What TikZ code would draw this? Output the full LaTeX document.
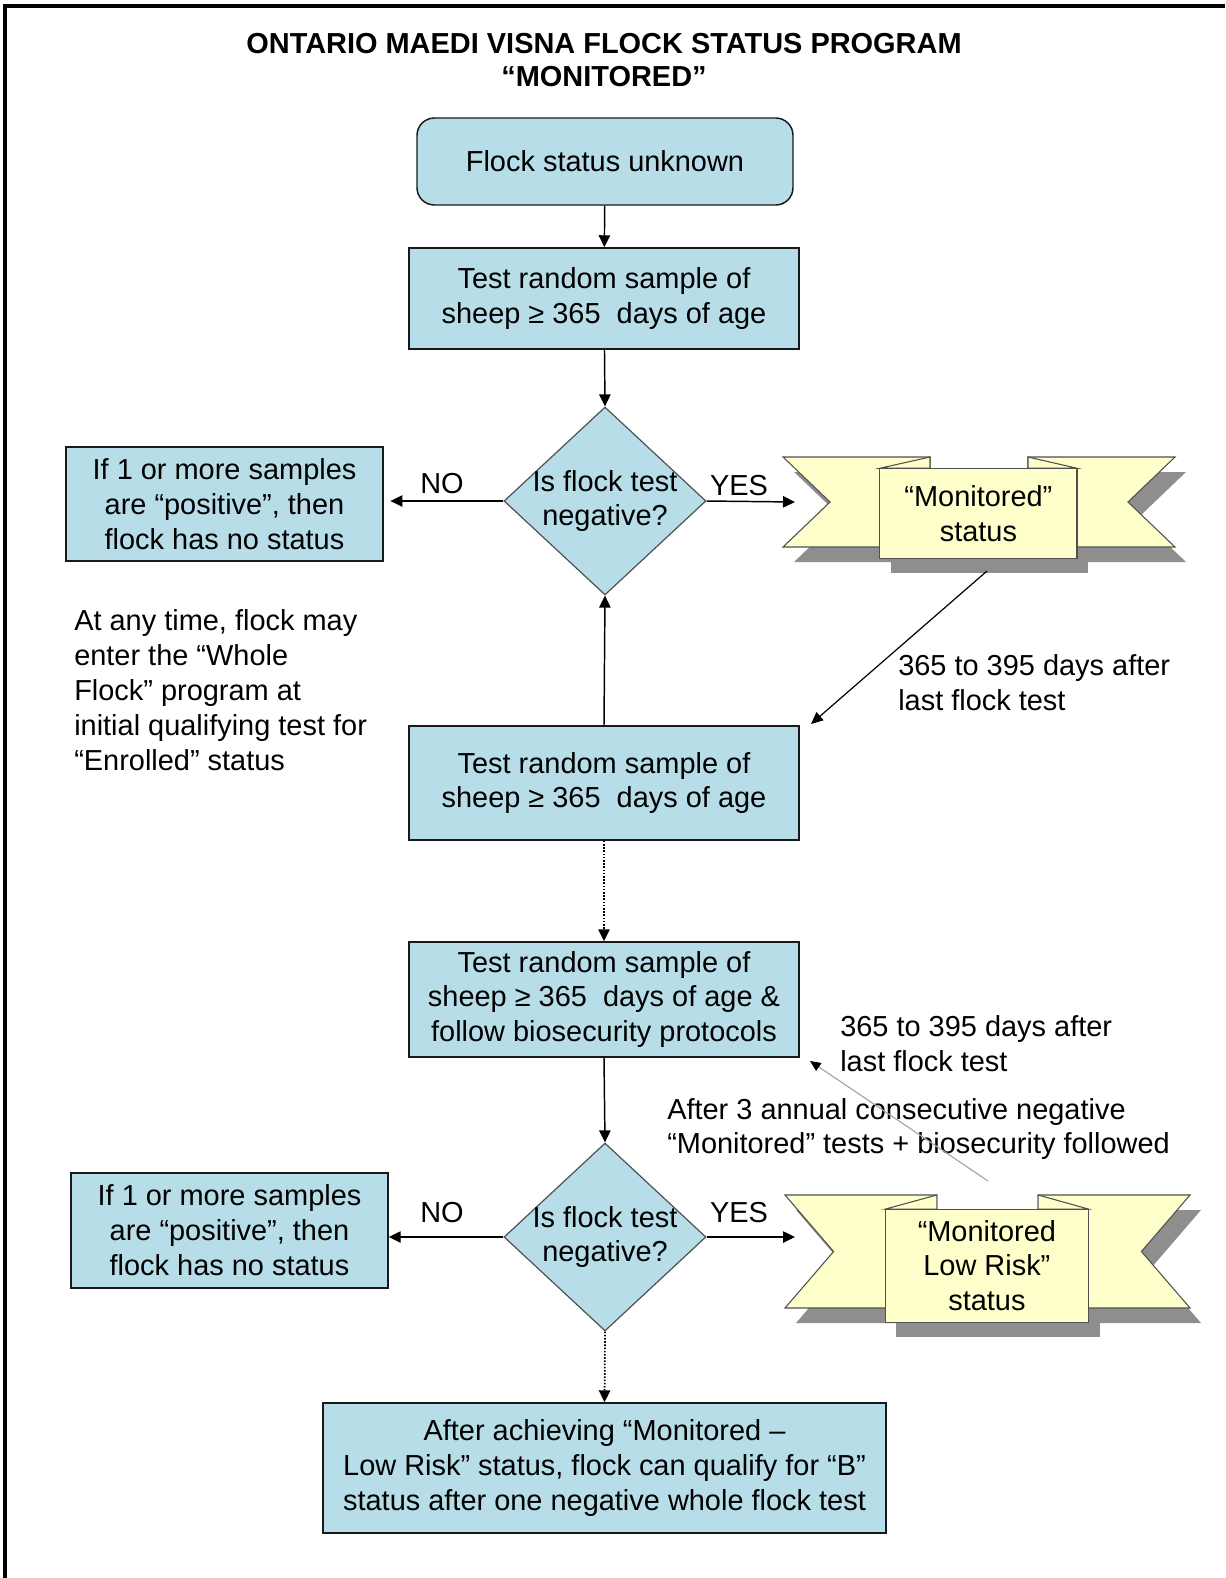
\documentclass[tikz,border=0pt]{standalone}
\usepackage{fontspec}
\setmainfont{Liberation Sans}
\usetikzlibrary{shapes.geometric,arrows.meta}

\definecolor{boxblue}{HTML}{B7DDE8}
\definecolor{ribbonyellow}{HTML}{FFFFCC}
\definecolor{shadegray}{HTML}{8E8E8E}
\definecolor{edgegray}{HTML}{505050}
\definecolor{lightline}{HTML}{A8A8A8}

% Ribbon banner: #1 name, #2/#3 top-left of wings, #4 overall width, #5 wing height, #6 text
\newcommand\flockribbon[6]{%
  \pgfmathsetmacro\rnL{#2+0.12*#4}%
  \pgfmathsetmacro\riL{#2+0.375*#4}%
  \pgfmathsetmacro\rpL{#2+0.247*#4}%
  \pgfmathsetmacro\rpR{#2+0.75*#4}%
  \pgfmathsetmacro\riR{#2+0.625*#4}%
  \pgfmathsetmacro\rnR{#2+0.88*#4}%
  \pgfmathsetmacro\rR{#2+#4}%
  \pgfmathsetmacro\rB{#3+#5}%
  \pgfmathsetmacro\rM{#3+0.5*#5}%
  \pgfmathsetmacro\rD{#3+0.125*#5}%
  \pgfmathsetmacro\rPB{#3+1.125*#5}%
  \pgfmathsetmacro\rpW{(\rpR-\rpL)*0.75}%
  \pgfmathsetmacro\rpH{(\rPB-\rD)*0.75}%
  \begin{scope}[shift={(11,15)}]
    \fill[shadegray] (#2,#3) -- (\riL,#3) -- (\riL,\rB) -- (#2,\rB) -- (\rnL,\rM) -- cycle;
    \fill[shadegray] (\rR,#3) -- (\riR,#3) -- (\riR,\rB) -- (\rR,\rB) -- (\rnR,\rM) -- cycle;
    \fill[shadegray] (\rpL,\rD) rectangle (\rpR,\rPB);
  \end{scope}
  \draw[ribbonline] (#2,#3) -- (\riL,#3) -- (\riL,\rB) -- (#2,\rB) -- (\rnL,\rM) -- cycle;
  \draw[ribbonline] (\rR,#3) -- (\riR,#3) -- (\riR,\rB) -- (\rR,\rB) -- (\rnR,\rM) -- cycle;
  \draw[ribbonline] (\rpL,\rD) -- (\riL,#3) -- (\riL,\rD) -- cycle;
  \draw[ribbonline] (\rpR,\rD) -- (\riR,#3) -- (\riR,\rD) -- cycle;
  \node[ribbonline, minimum width=\rpW pt, minimum height=\rpH pt, align=center, inner sep=0pt]
    (#1) at ({(\rpL+\rpR)/2},{(\rD+\rPB)/2}) {#6};%
}

\begin{document}
\begin{tikzpicture}[x=0.75pt,y=-0.75pt,
  every node/.style={font=\fontsize{21.7}{26.2}\selectfont},
  box/.style={draw=black!90, line width=1.1pt, fill=boxblue, align=center, inner sep=0pt},
  decision/.style={diamond, draw=edgegray, line width=0.9pt, fill=boxblue, inner sep=0pt,
    minimum width=151.5pt, minimum height=141pt},
  ribbonline/.style={draw=edgegray, line width=0.8pt, fill=ribbonyellow},
  arr/.style={line width=1.1pt, -{Triangle[length=9pt,width=8.5pt]}},
  dotarr/.style={line width=1.3pt, dash pattern=on 1.2pt off 1.2pt, -{Triangle[length=9pt,width=8.5pt]}},
  note/.style={align=left, inner sep=0pt}]

\useasboundingbox (0,0) rectangle (1225,1578);

% page frame (top and left edges)
\draw[line width=2.3pt] (5,1578) -- (5,6) -- (1225,6);

% title
\node[font=\fontsize{21.7}{24.75}\selectfont\bfseries, align=center] (title) at (604,60.5)
  {ONTARIO MAEDI VISNA FLOCK STATUS PROGRAM\\“MONITORED”};

% main column
\node[box, rounded corners=13pt, minimum width=282pt, minimum height=65.25pt] (start) at (605,161.5)
  {Flock status unknown};
\node[box, minimum width=292.5pt, minimum height=75.75pt] (t1) at (604,298.5)
  {Test random sample of\\sheep ≥ 365~~days of age};
\node[decision] (d1) at (605,501) {};
\node[align=center] (q1) at (d1.center) {Is flock test\\negative?};
\node[box, minimum width=237.75pt, minimum height=85.5pt] (n1) at (224.5,504)
  {If 1 or more samples\\are “positive”, then\\flock has no status};

\flockribbon{r1}{783}{457}{392}{90}{“Monitored”\\status}

\node[box, minimum width=292.5pt, minimum height=85.5pt] (t2) at (604,783)
  {Test random sample of\\sheep ≥ 365~~days of age};

\node[note, anchor=west] (any) at (74,690.5)
  {At any time, flock may\\enter the “Whole\\Flock” program at\\initial qualifying test for\\“Enrolled” status};

\node[box, minimum width=292.5pt, minimum height=86.25pt] (t3) at (604,999.5)
  {Test random sample of\\sheep ≥ 365~~days of age \&\\follow biosecurity protocols};

\node[decision] (d2) at (605,1237) {};
\node[align=center] (q2) at (d2.center) {Is flock test\\negative?};
\node[box, minimum width=237.75pt, minimum height=86.25pt] (n2) at (229.5,1230.5)
  {If 1 or more samples\\are “positive”, then\\flock has no status};

\flockribbon{r2}{785}{1195}{405}{113}{“Monitored\\Low Risk”\\status}

\node[box, minimum width=422.25pt, minimum height=97.5pt] (fin) at (604.5,1468)
  {After achieving “Monitored –\\Low Risk” status, flock can qualify for “B”\\status after one negative whole flock test};

% side labels
\node[note, anchor=west] (lag1) at (898,682.5) {365 to 395 days after\\last flock test};
\node[note, anchor=west] (lag2) at (840,1043.5) {365 to 395 days after\\last flock test};
\node[note, anchor=west] (three) at (667,1129) {After 3 annual consecutive negative\\“Monitored” tests + biosecurity followed};
\node (no1) at (442,484) {NO};
\node (yes1) at (739,486) {YES};
\node (no2) at (442,1213) {NO};
\node (yes2) at (739,1213) {YES};

% free ends of connectors
\coordinate (y1end) at (795,502);
\coordinate (y2end) at (795,1237);
\coordinate (r1out) at (987,571);
\coordinate (t2in) at (811,724);
\coordinate (r2out) at (988,1181);
\coordinate (t3in) at (810,1061);

% connectors
\draw[arr] (start) -- (t1);
\draw[arr] (t1) -- (d1.north);
\draw[arr] (d1.west) -- ([xshift=5pt]d1.west -| n1.east);
\draw[arr] (d1.east) -- (y1end);
\draw[line width=0.9pt, -{Triangle[length=9pt,width=8pt]}] (r1out) -- (t2in);
\draw[arr] (t2.north) -- (d1.south);
\draw[dotarr] (t2.south) -- (t3.north);
\draw[arr] (t3.south) -- (d2.north);
\draw[arr] (d2.west) -- (d2.west -| n2.east);
\draw[arr] (d2.east) -- (y2end);
\draw[lightline, line width=0.9pt, -{Triangle[length=8pt,width=7pt,color=black]}] (r2out) -- (t3in);
\draw[dotarr] (d2.south) -- (fin.north);

\end{tikzpicture}
\end{document}
